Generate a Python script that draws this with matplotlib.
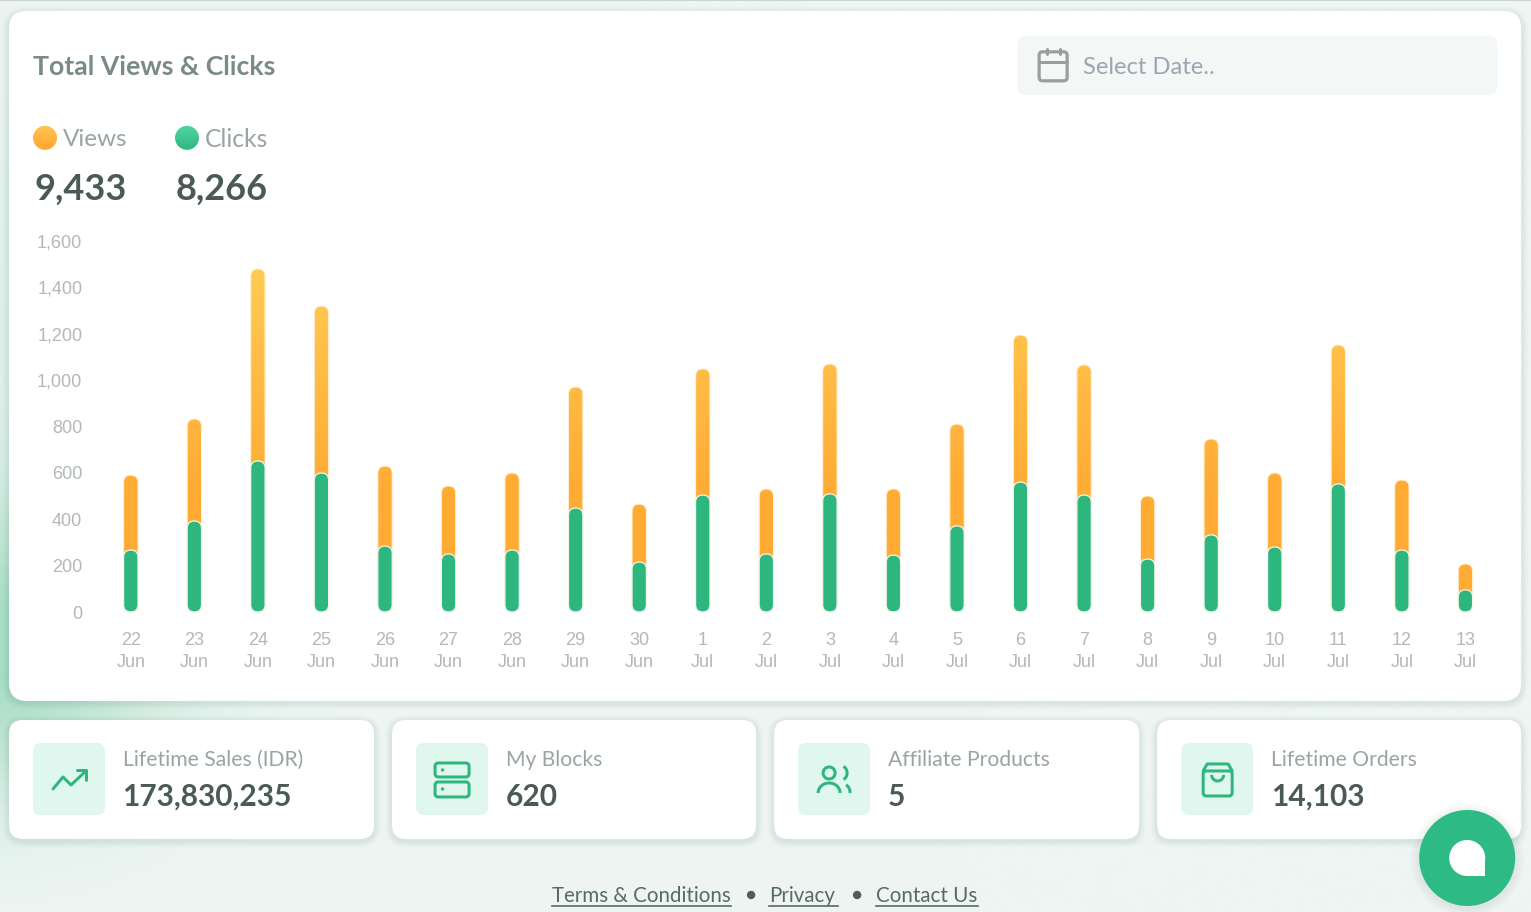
#!/usr/bin/env python3

import numpy as np
import matplotlib
matplotlib.use("Agg")
import matplotlib.pyplot as plt
from matplotlib.colors import LinearSegmentedColormap
from matplotlib.patches import FancyBboxPatch, Circle, Rectangle, Arc
from matplotlib.transforms import IdentityTransform

W, H = 1531, 912

day_lst = ["22", "23", "24", "25", "26", "27", "28", "29", "30", "1", "2", "3", "4", "5", "6", "7", "8", "9", "10", "11", "12", "13"]
month_lst = ["Jun"] * 9 + ["Jul"] * 13
clicks = [267, 392, 651, 599, 284, 250, 267, 448, 215, 504, 250, 509, 245, 371, 560, 504, 228, 332, 280, 552, 267, 95]
views = [323, 440, 828, 720, 345, 293, 332, 522, 250, 544, 280, 560, 285, 439, 634, 561, 272, 414, 319, 599, 302, 112]
y_ticks = [0, 200, 400, 600, 800, 1000, 1200, 1400, 1600]

total_views = "9,433"
total_clicks = "8,266"

card_title = ["Lifetime Sales (IDR)", "My Blocks", "Affiliate Products", "Lifetime Orders"]
card_value = ["173,830,235", "620", "5", "14,103"]
card_left = [9, 392, 774, 1157]
card_right = [374, 756, 1139, 1521]

GREEN = "#2DB77F"
DARK = "#4A5A54"
GREY = "#99A5A1"
TICK = "#B2B9B6"
ICON = "#2DB77F"

# the extra fraction keeps the saved height from rounding down a pixel
fig = plt.figure(figsize=((W + 0.2) / 100, (H + 0.2) / 100), dpi=100)

# page layer, works in pixels with y going down
ui = fig.add_axes([0, 0, 1, 1])
ui.set_xlim(0, W)
ui.set_ylim(H, 0)
ui.axis("off")


def box(x0, y0, x1, y1, r, color, z=2, ax=ui):
	p = FancyBboxPatch((x0, y0), x1 - x0, y1 - y0, boxstyle="round,pad=0,rounding_size=%g" % r,
		fc=color, ec="none", zorder=z)
	ax.add_patch(p)
	return p


def shadow(x0, y0, x1, y1, r):
	for k in range(8, 0, -1):
		p = FancyBboxPatch((x0 - k * 0.8, y0 - k * 0.8 + 2), x1 - x0 + k * 1.6, y1 - y0 + k * 1.6,
			boxstyle="round,pad=0,rounding_size=%g" % (r + k * 0.8), fc="#30584a", ec="none", alpha=0.012, zorder=1)
		ui.add_patch(p)


def stroke(xs, ys, lw=3.0, color=ICON, z=4):
	ui.plot(xs, ys, color=color, lw=lw * 0.72, solid_capstyle="round", solid_joinstyle="round", zorder=z)


def outline(x0, y0, x1, y1, r, lw=3.0, color=ICON):
	p = FancyBboxPatch((x0, y0), x1 - x0, y1 - y0, boxstyle="round,pad=0,rounding_size=%g" % r,
		fc="none", ec=color, lw=lw * 0.72, zorder=4)
	ui.add_patch(p)


def arc(cx, cy, w, h, a0, a1, lw=3.0, color=ICON):
	ui.add_patch(Arc((cx, cy), w, h, theta1=a0, theta2=a1, color=color, lw=lw * 0.72, zorder=4))


# background with the green glow on the left edge
yy, xx = np.mgrid[0:H, 0:W]
glow = np.exp(-((xx / 165.0) ** 2 + ((yy - 650.0) / 140.0) ** 2))
glow = glow + 0.22 * np.exp(-((xx / 60.0) ** 2 + ((yy - 350.0) / 260.0) ** 2))
glow = np.clip(glow, 0, 1)[..., None]
base = np.array([238, 245, 243], dtype=float)
tint = np.array([168, 222, 197], dtype=float)
bg = (base * (1 - glow) + tint * glow) / 255.0
ui.imshow(bg, extent=(0, W, H, 0), aspect="auto", zorder=0, interpolation="bilinear")
ui.add_patch(Rectangle((0, 0), W, 1.5, fc="#C9D3D0", ec="none", zorder=1))

# main card
shadow(9, 11, 1521, 701, 18)
box(9, 11, 1521, 701, 18, "white")

ui.text(33, 65, "Total Views & Clicks", family="Lato", weight="bold", fontsize=19.2, color="#7A8A84", va="center_baseline")

# date picker
box(1017, 36, 1497, 95, 9, "#F3F7F6", z=3)
outline(1039, 52, 1067, 81, 3.5, lw=3.2, color="#9A9F9E")
stroke([1039, 1067], [62, 62], lw=3.0, color="#9A9F9E")
stroke([1046.5, 1046.5], [49, 54], lw=3.0, color="#9A9F9E")
stroke([1059.5, 1059.5], [49, 54], lw=3.0, color="#9A9F9E")
ui.text(1083, 65, "Select Date..", family="Lato", fontsize=17.1, color="#9CA6B2", va="center_baseline", zorder=4)

# legend dots with their totals
for cx, c0, c1 in [(45, "#FFC552", "#FFA62E"), (187, "#52D6A6", "#2DB77F")]:
	cm = LinearSegmentedColormap.from_list("dot", [c0, c1])
	im = ui.imshow(np.linspace(0, 1, 32)[:, None], extent=(cx - 13, cx + 13, 151, 125), cmap=cm, aspect="auto", zorder=3)
	c = Circle((cx, 138), 12, transform=ui.transData)
	im.set_clip_path(c)

ui.text(63, 137, "Views", family="Lato", fontsize=17.5, color=GREY, va="center_baseline", zorder=4)
ui.text(205, 137, "Clicks", family="Lato", fontsize=17.7, color=GREY, va="center_baseline", zorder=4)
ui.text(34, 186, total_views, family="Lato", weight="bold", fontsize=26.0, color=DARK, va="center_baseline", zorder=4)
ui.text(176, 186, total_clicks, family="Lato", weight="bold", fontsize=26.0, color=DARK, va="center_baseline", zorder=4)

# small cards
for k in range(4):
	x0, x1 = card_left[k], card_right[k]
	shadow(x0, 720, x1, 839, 14)
	box(x0, 720, x1, 839, 14, "white")
	box(x0 + 24, 743, x0 + 96, 815, 8, "#E0F7EF", z=3)
	ui.text(x0 + 114, 758, card_title[k], family="Lato", fontsize=15.2, color=GREY, va="center_baseline", zorder=4)
	ui.text(x0 + 113.5, 794, card_value[k], family="Lato", weight="bold", fontsize=21.5, color=DARK, va="center_baseline", zorder=4)

# trend icon
stroke([53, 63, 71, 86], [789, 777, 785, 771])
stroke([77, 86, 86], [770.5, 770.5, 780])

# server icon
outline(435, 763, 469, 777, 3.5)
outline(435, 782, 469, 797, 3.5)
ui.add_patch(Circle((442.5, 770), 1.7, fc=ICON, ec="none", zorder=4))
ui.add_patch(Circle((442.5, 789), 1.7, fc=ICON, ec="none", zorder=4))

# people icon
ui.add_patch(Circle((829, 773), 6, fc="none", ec=ICON, lw=3 * 0.72, zorder=4))
arc(841, 773, 12, 14, -70, 70)
arc(829, 793, 22, 20, 180, 360)
arc(843, 793, 14, 18, 290, 360)

# bag icon
outline(1203, 771, 1232, 796, 3)
stroke([1203, 1207, 1228, 1232], [771, 764, 764, 771])
arc(1217.5, 775, 12, 12, 0, 180)

# footer
for txt, x0, x1 in [("Terms & Conditions", 552, 731), ("Privacy", 769, 838), ("Contact Us", 876, 978)]:
	ui.text(x0, 894, txt, family="Lato", fontsize=14.8, color="#566B64", va="center_baseline", zorder=4)
	ui.plot([x0, x1], [906.5, 906.5], color="#566B64", lw=1.2, zorder=4)
ui.add_patch(Circle((751, 895), 4.2, fc="#4F5F58", ec="none", zorder=4))
ui.add_patch(Circle((857, 895), 4.2, fc="#4F5F58", ec="none", zorder=4))

# stacked chart, clicks below and views on top
ax = fig.add_axes([99.0 / W, 1 - 612.0 / H, (1497.0 - 99.0) / W, (612.0 - 241.0) / H])
ax.patch.set_alpha(0)
x_pos = np.arange(len(clicks))
ax.set_xlim(-0.5, len(clicks) - 0.5)
ax.set_ylim(0, 1600)
ax.set_autoscale_on(False)

for s in ax.spines.values():
	s.set_visible(False)

ax.set_yticks(y_ticks)
ax.set_yticklabels(["{:,}".format(v) for v in y_ticks], family="Liberation Sans", fontsize=13.0, color=TICK)
ax.set_xticks(x_pos)
ax.set_xticklabels([d + "\n" + m for d, m in zip(day_lst, month_lst)], family="Liberation Sans", fontsize=13.0, color=TICK, linespacing=1.36)
ax.tick_params(axis="y", length=0, pad=12)
ax.tick_params(axis="x", length=0, pad=14.4)

view_cmap = LinearSegmentedColormap.from_list("views", [(0.0, "#FFAB34"), (0.32, "#FFAB34"), (0.94, "#FFCC55"), (1.0, "#FFCC55")])
ramp = np.linspace(0, 1, 256)[:, None]


def pill(x, y0, y1, half=7.2, r=7.2):
	# bar outline in screen pixels, taken from the data position
	(px, p0), (_, p1) = ax.transData.transform([(x, y0), (x, y1)])
	return FancyBboxPatch((px - half, p0), 2 * half, p1 - p0, boxstyle="round,pad=0,rounding_size=%g" % r,
		transform=IdentityTransform(), ec="none", fc="none", clip_on=False)


for i in x_pos:
	total = clicks[i] + views[i]

	clip = pill(i, 0, total)
	clip.set_zorder(2)
	ax.add_patch(clip)
	im = ax.imshow(ramp, origin="lower", extent=(-0.5, len(clicks) - 0.5, 0, 1600), cmap=view_cmap, vmin=0, vmax=1, aspect="auto", zorder=2)
	im.set_clip_path(clip)

	rim = pill(i, 0, total)
	rim.set(ec="#FFF1D6", lw=0.8, fc="none", zorder=3)
	ax.add_patch(rim)

	bar = pill(i, 0, clicks[i])
	bar.set(fc=GREEN, ec="#F2F5E8", lw=0.9, zorder=4)
	ax.add_patch(bar)

ax.set_xlim(-0.5, len(clicks) - 0.5)
ax.set_ylim(0, 1600)

# chat button on top of everything
top = fig.add_axes([0, 0, 1, 1])
top.set_xlim(0, W)
top.set_ylim(H, 0)
top.axis("off")
top.patch.set_alpha(0)
for k in range(8, 0, -1):
	top.add_patch(Circle((1467, 860), 48 + k * 1.2, fc="#30584a", ec="none", alpha=0.008))
top.add_patch(Circle((1467, 858), 48, fc="#2EBA84", ec="none"))
top.add_patch(Circle((1467, 858), 18, fc="white", ec="none"))
top.add_patch(Rectangle((1467, 858), 18, 18, fc="white", ec="none"))

fig.savefig("out.png", dpi=100)
